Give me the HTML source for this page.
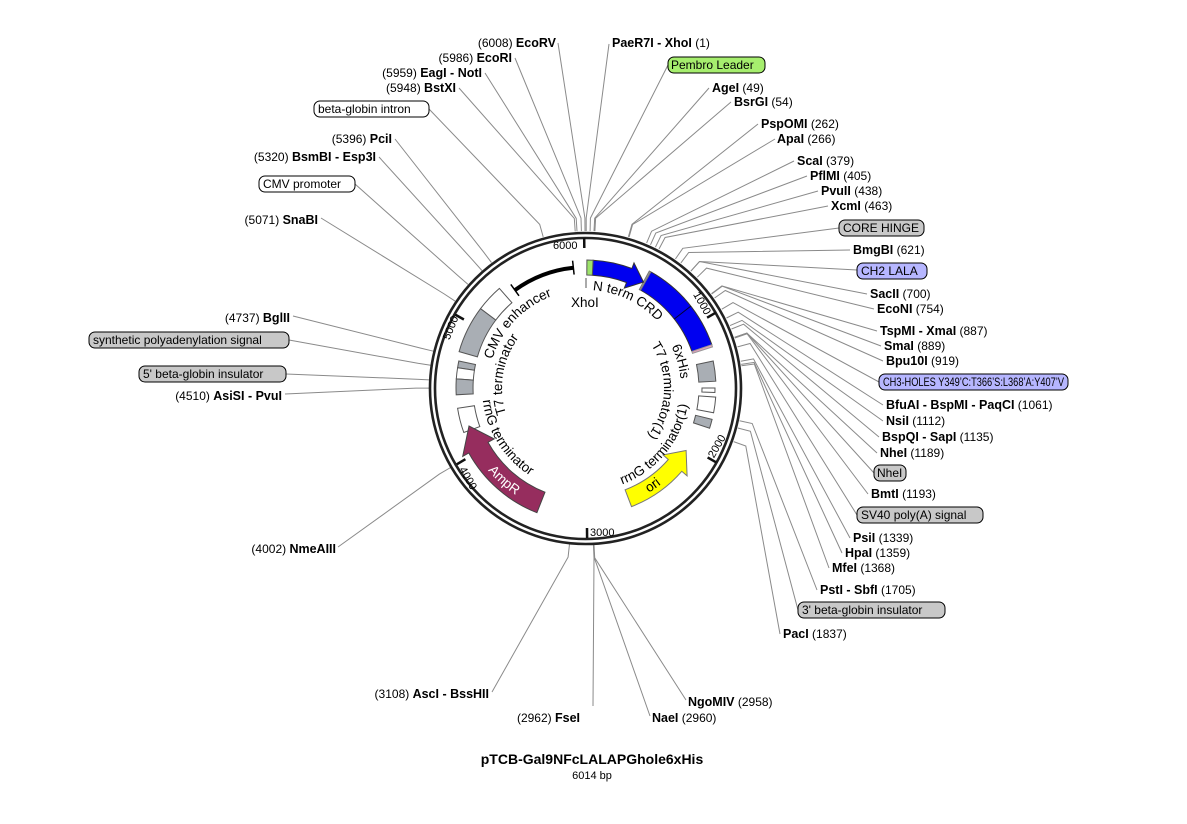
<!DOCTYPE html>
<html><head><meta charset="utf-8"><style>
html,body{margin:0;padding:0;background:#fff}
svg{display:block;font-family:"Liberation Sans",sans-serif}
.l{font-size:12px;fill:#000}
.l tspan.b{font-weight:bold;font-size:12.5px}
.in{font-size:13.5px;fill:#000}
.tk{font-size:11px;fill:#000}
</style></head><body>
<svg id="s" width="1187" height="824" viewBox="0 0 1187 824" xmlns="http://www.w3.org/2000/svg">
<defs>
<path id="cw98" d="M586,290 A98,98 0 1 1 586,486 A98,98 0 1 1 586,290"/>
<path id="cw95" d="M586,293 A95,95 0 1 1 586,483 A95,95 0 1 1 586,293"/>
<path id="cw78" d="M586,310 A78,78 0 1 1 586,466 A78,78 0 1 1 586,310"/>
<path id="cw84" d="M586,304 A84,84 0 1 1 586,472 A84,84 0 1 1 586,304"/>
<path id="cc103" d="M586,285 A103,103 0 1 0 586,491 A103,103 0 1 0 586,285"/>
<path id="cc104" d="M586,284 A104,104 0 1 0 586,492 A104,104 0 1 0 586,284"/>
<path id="cc128" d="M586,260 A128,128 0 1 0 586,516 A128,128 0 1 0 586,260"/>
<path id="cc122" d="M586,266 A122,122 0 1 0 586,510 A122,122 0 1 0 586,266"/>
</defs>
<g id="lines" stroke="#8a8a8a" stroke-width="1" fill="none"></g>
<circle cx="585.5" cy="388.5" r="155.5" fill="none" stroke="#222" stroke-width="2.6"/>
<circle cx="585.5" cy="388.5" r="150.5" fill="none" stroke="#222" stroke-width="2.6"/>
<g id="ticks" stroke="#111" stroke-width="2.5"></g>
<g id="feat"></g>
<text class="tk" x="553" y="249">6000</text>
<text class="tk" x="590" y="536">3000</text>
<text class="tk" transform="translate(699,305) rotate(60)" text-anchor="middle">1000</text>
<text class="tk" transform="translate(720,448) rotate(-60)" text-anchor="middle">2000</text>
<text class="tk" transform="translate(465,480) rotate(60)" text-anchor="middle">4000</text>
<text class="tk" transform="translate(454,329) rotate(-68)" text-anchor="middle">5000</text>
<text class="in" x="571" y="307">XhoI</text>
<text class="in"><textPath href="#cw98" startOffset="1.1%">N term CRD</textPath></text>
<text class="in"><textPath href="#cw95" startOffset="17.8%">6xHis</textPath></text>
<text class="in"><textPath href="#cw78" startOffset="15.7%">T7 terminator(1)</textPath></text>
<text class="in"><textPath href="#cc103" startOffset="55.7%">rrnG terminator(1)</textPath></text>
<text class="in"><textPath href="#cc104" startOffset="26.9%">rrnG terminator</textPath></text>
<text class="in"><textPath href="#cw84" startOffset="70%">T7 terminator</textPath></text>
<text class="in"><textPath href="#cw98" startOffset="79.7%">CMV enhancer</textPath></text>
<text class="in" style="fill:#fff"><textPath href="#cc128" startOffset="36.1%">AmpR</textPath></text>
<text class="in"><textPath href="#cc122" startOffset="58.6%">ori</textPath></text>

<g stroke="#000" stroke-width="1">
<rect x="668" y="57" width="97" height="16" rx="6" fill="#a6ee6e"/>
<rect x="839" y="220" width="85" height="16" rx="6" fill="#c8c8c8"/>
<rect x="857" y="263" width="70" height="16" rx="6" fill="#b6b6ff"/>
<rect x="879" y="374" width="189" height="16" rx="6" fill="#b6b6ff"/>
<rect x="874" y="465" width="32" height="16" rx="6" fill="#c8c8c8"/>
<rect x="857" y="507" width="126" height="16" rx="6" fill="#c8c8c8"/>
<rect x="798" y="602" width="147" height="16" rx="6" fill="#c8c8c8"/>
<rect x="314" y="101" width="115" height="16" rx="6" fill="#fff"/>
<rect x="259" y="176" width="96" height="16" rx="6" fill="#fff"/>
<rect x="89" y="332" width="200" height="16" rx="6" fill="#c8c8c8"/>
<rect x="139" y="366" width="147" height="16" rx="6" fill="#c8c8c8"/>
</g>
<g class="l">
<text x="671" y="69">Pembro Leader</text>
<text x="843" y="232">CORE HINGE</text>
<text x="861" y="275">CH2 LALA</text>
<text x="883" y="386" textLength="181" lengthAdjust="spacingAndGlyphs">CH3-HOLES Y349’C:T366’S:L368’A:Y407’V</text>
<text x="877" y="477">NheI</text>
<text x="861" y="519">SV40 poly(A) signal</text>
<text x="802" y="614">3' beta-globin insulator</text>
<text x="318" y="113">beta-globin intron</text>
<text x="263" y="188">CMV promoter</text>
<text x="93" y="344">synthetic polyadenylation signal</text>
<text x="143" y="378">5' beta-globin insulator</text>

<text x="612" y="47"><tspan class="b">PaeR7I - XhoI</tspan>  (1)</text>
<text x="712" y="92"><tspan class="b">AgeI</tspan>  (49)</text>
<text x="734" y="106"><tspan class="b">BsrGI</tspan>  (54)</text>
<text x="761" y="128"><tspan class="b">PspOMI</tspan>  (262)</text>
<text x="777" y="143"><tspan class="b">ApaI</tspan>  (266)</text>
<text x="797" y="165"><tspan class="b">ScaI</tspan>  (379)</text>
<text x="810" y="180"><tspan class="b">PflMI</tspan>  (405)</text>
<text x="821" y="195"><tspan class="b">PvuII</tspan>  (438)</text>
<text x="831" y="210"><tspan class="b">XcmI</tspan>  (463)</text>
<text x="853" y="254"><tspan class="b">BmgBI</tspan>  (621)</text>
<text x="870" y="298"><tspan class="b">SacII</tspan>  (700)</text>
<text x="877" y="313"><tspan class="b">EcoNI</tspan>  (754)</text>
<text x="880" y="335"><tspan class="b">TspMI - XmaI</tspan>  (887)</text>
<text x="884" y="350"><tspan class="b">SmaI</tspan>  (889)</text>
<text x="886" y="365"><tspan class="b">Bpu10I</tspan>  (919)</text>
<text x="886" y="409"><tspan class="b">BfuAI - BspMI - PaqCI</tspan>  (1061)</text>
<text x="886" y="425"><tspan class="b">NsiI</tspan>  (1112)</text>
<text x="882" y="441"><tspan class="b">BspQI - SapI</tspan>  (1135)</text>
<text x="880" y="457"><tspan class="b">NheI</tspan>  (1189)</text>
<text x="871" y="498"><tspan class="b">BmtI</tspan>  (1193)</text>
<text x="853" y="542"><tspan class="b">PsiI</tspan>  (1339)</text>
<text x="845" y="557"><tspan class="b">HpaI</tspan>  (1359)</text>
<text x="832" y="572"><tspan class="b">MfeI</tspan>  (1368)</text>
<text x="820" y="594"><tspan class="b">PstI - SbfI</tspan>  (1705)</text>
<text x="783" y="638"><tspan class="b">PacI</tspan>  (1837)</text>
<text x="688" y="706"><tspan class="b">NgoMIV</tspan>  (2958)</text>
<text x="652" y="722"><tspan class="b">NaeI</tspan>  (2960)</text>
<text x="580" y="722" text-anchor="end">(2962)  <tspan class="b">FseI</tspan></text>
<text x="489" y="698" text-anchor="end">(3108)  <tspan class="b">AscI - BssHII</tspan></text>
<text x="336" y="553" text-anchor="end">(4002)  <tspan class="b">NmeAIII</tspan></text>
<text x="282" y="400" text-anchor="end">(4510)  <tspan class="b">AsiSI - PvuI</tspan></text>
<text x="290" y="322" text-anchor="end">(4737)  <tspan class="b">BglII</tspan></text>
<text x="318" y="224" text-anchor="end">(5071)  <tspan class="b">SnaBI</tspan></text>
<text x="376" y="161" text-anchor="end">(5320)  <tspan class="b">BsmBI - Esp3I</tspan></text>
<text x="392" y="143" text-anchor="end">(5396)  <tspan class="b">PciI</tspan></text>
<text x="456" y="92" text-anchor="end">(5948)  <tspan class="b">BstXI</tspan></text>
<text x="482" y="77" text-anchor="end">(5959)  <tspan class="b">EagI - NotI</tspan></text>
<text x="512" y="62" text-anchor="end">(5986)  <tspan class="b">EcoRI</tspan></text>
<text x="556" y="47" text-anchor="end">(6008)  <tspan class="b">EcoRV</tspan></text>
</g>
<text x="592" y="764" text-anchor="middle" font-weight="bold" font-size="14">pTCB-Gal9NFcLALAPGhole6xHis</text>
<text x="592" y="779" text-anchor="middle" font-size="11">6014 bp</text>
</svg>
<script>
(function(){
var NS="http://www.w3.org/2000/svg",cx=586,cy=388,R=Math.PI/180;
function pt(a,r){return [cx+r*Math.sin(a*R),cy-r*Math.cos(a*R)];}
function P(p){return p[0].toFixed(1)+","+p[1].toFixed(1);}
function el(g,tag,at){var e=document.createElementNS(NS,tag);for(var k in at)e.setAttribute(k,at[k]);document.getElementById(g).appendChild(e);return e;}
function band(a1,a2,r1,r2){var l=(a2-a1)>180?1:0;return "M"+P(pt(a1,r2))+"A"+r2+","+r2+" 0 "+l+" 1 "+P(pt(a2,r2))+"L"+P(pt(a2,r1))+"A"+r1+","+r1+" 0 "+l+" 0 "+P(pt(a1,r1))+"Z";}
function arrow(at,tip,hb,r1,r2,w){var s=hb>at?1:0,m=(r1+r2)/2;
return "M"+P(pt(at,r2))+"A"+r2+","+r2+" 0 0 "+s+" "+P(pt(hb,r2))+"L"+P(pt(hb,r2+w))+"L"+P(pt(tip,m))+"L"+P(pt(hb,r1-w))+"L"+P(pt(hb,r1))+"A"+r1+","+r1+" 0 0 "+(1-s)+" "+P(pt(at,r1))+"Z";}
function f(d,fill,st){el("feat","path",{d:d,fill:fill,stroke:st||"#555","stroke-width":1});}
f(band(29,71,112,133),"#0000f0","#333");
f(band(28.4,29.2,112,133),"#999","#777");
f(band(71,72,112,133),"#e9a0c0","#999");
el("feat","path",{d:"M"+P(pt(52,112))+"L"+P(pt(52,133)),stroke:"#003","stroke-width":1});
f(arrow(3.2,28.5,21,113,128,6),"#0000f0","#333");
f(band(0.4,3.2,113,128),"#9de36a","#555");
f(band(78,87,113,130),"#a9aeb4");
f(band(90,92,116,129),"#fff");
f(band(94,101,113,130),"#fff");
f(band(104,108,113,130),"#a9aeb4");
f(band(286,307,113,132),"#a9aeb4");
f(band(307,319,113,132),"#fff");
f(band(279,282,113,130),"#a9aeb4");
f(band(274,279,113,130),"#fff");
f(band(267,274,113,130),"#a9aeb4");
f(band(250,261,113,130),"#fff");
f(arrow(201.5,252,241,112,134,7),"#962d5e","#444");
f(arrow(159,122,131,109,127,7),"#ffff00","#777");
el("feat","path",{d:"M"+P(pt(324,121))+"A121,121 0 0 1 "+P(pt(354,121)),fill:"none",stroke:"#000","stroke-width":4});
[324,354].forEach(function(a){el("feat","path",{d:"M"+P(pt(a,114))+"L"+P(pt(a,128)),stroke:"#000","stroke-width":1.5});});
el("feat","path",{d:"M"+P(pt(0,100))+"L"+P(pt(0,110)),stroke:"#555","stroke-width":1});
[0,1000,2000,3000,4000,5000].forEach(function(b){var a=b/6014*360;if(b==0)a=359.3;
el("ticks","path",{d:"M"+P(pt(a,150))+"L"+P(pt(a,140))});});
var L=[[1,609,44],[25,668,65],[49,709,88],[54,731,102],[262,758,124],[266,775,139],[379,794,161],[405,807,176],[438,818,191],[463,828,206],[580,839,228],[621,850,250],[700,857,270],[700,867,294],[754,874,309],[887,877,331],[889,881,346],[919,883,361],[1000,879,382],[1061,883,405],[1112,883,421],[1135,879,437],[1189,877,453],[1189,874,473],[1193,868,494],[1250,857,515],[1339,850,538],[1359,842,553],[1368,829,568],[1705,817,590],[1750,798,610],[1837,780,634],[2958,686,700],[2960,650,716],[2962,593,706],[3108,492,692],[4002,338,547],[4510,285,394],[4560,286,374],[4650,289,340],[4737,293,316],[5071,321,218],[5200,355,184],[5320,379,157],[5396,395,139],[5750,429,109],[5948,459,88],[5959,485,73],[5986,515,58],[6008,558,43]];
L.forEach(function(l){var a=l[0]/6014*360,p1=pt(a,157),p2=pt(a,170);
el("lines","path",{d:"M"+P(p1)+"L"+P(p2)+"L"+l[1]+","+l[2]});});
})();
</script>
</body></html>
